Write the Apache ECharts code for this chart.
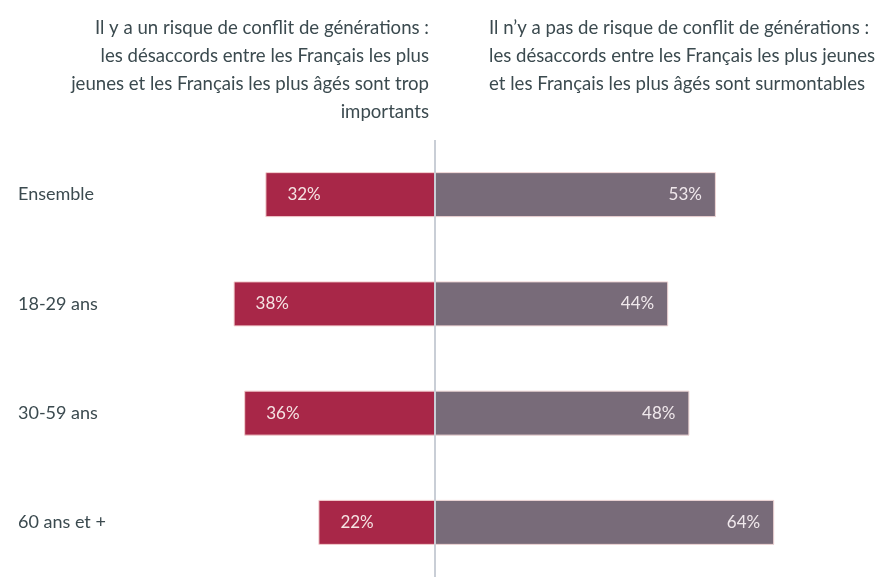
<!DOCTYPE html>
<html>
<head>
<meta charset="utf-8">
<script src="https://cdn.jsdelivr.net/npm/echarts@6/dist/echarts.min.js"></script>
<style>
  html, body { margin: 0; padding: 0; background: #ffffff; }
  #chart { width: 882px; height: 577px; }
</style>
</head>
<body>
<div id="chart"></div>
<script>
// Age groups, top to bottom
const categories = ['Ensemble', '18-29 ans', '30-59 ans', '60 ans et +'];
// "Risque de conflit" share (%), drawn to the left of the centre line
const risqueValues = [32, 38, 36, 22];
// "Pas de risque" share (%), drawn to the right of the centre line
const pasRisqueValues = [53, 44, 48, 64];

const leftHeader = [
  'Il y a un risque de conflit de générations :',
  'les désaccords entre les Français les plus',
  'jeunes et les Français les plus âgés sont trop',
  'importants'
];
const rightHeader = [
  'Il n’y a pas de risque de conflit de générations :',
  'les désaccords entre les Français les plus jeunes',
  'et les Français les plus âgés sont surmontables'
];

const FONT = 'Lato, "Open Sans", sans-serif';
const RED = '#A82748';
const GREY = '#786B79';
const TEXT = '#3b4a4f';

const chart = echarts.init(document.getElementById('chart'), null, { renderer: 'canvas' });

chart.setOption({
  backgroundColor: '#ffffff',
  animation: false,
  title: [
    {
      text: leftHeader.join('\n'),
      left: 424, top: 9,
      textAlign: 'right',
      textStyle: { fontFamily: FONT, fontSize: 18.6, fontWeight: 'normal', color: TEXT, lineHeight: 28, align: 'right' }
    },
    {
      text: rightHeader.join('\n'),
      left: 484, top: 9,
      textStyle: { fontFamily: FONT, fontSize: 18.6, fontWeight: 'normal', color: TEXT, lineHeight: 28 }
    }
  ],
  grid: { left: 117, width: 689, top: 140, height: 443, containLabel: false },
  xAxis: {
    type: 'value', min: -60, max: 70,
    show: false
  },
  yAxis: {
    type: 'category',
    data: categories,
    inverse: true,
    axisLine: { show: false },
    axisTick: { show: false },
    splitLine: { show: false },
    axisLabel: {
      align: 'left', margin: 99,
      fontFamily: FONT, fontSize: 18, color: TEXT
    }
  },
  series: [
    {
      name: 'Risque',
      type: 'bar',
      barWidth: 45,
      barGap: '-100%',
      data: risqueValues.map(v => -v),
      itemStyle: { color: RED, borderColor: '#f3cfcf', borderWidth: 1 },
      label: {
        show: true, position: 'insideLeft', distance: 22,
        formatter: p => Math.abs(p.value) + '%',
        fontFamily: FONT, fontSize: 17, color: '#f5e3e3'
      },
      markLine: {
        silent: true, symbol: 'none',
        label: { show: false },
        lineStyle: { color: '#c9ced6', width: 2, type: 'solid' },
        data: [{ xAxis: 0 }]
      },
      z: 1
    },
    {
      name: 'Pas de risque',
      type: 'bar',
      barWidth: 45,
      data: pasRisqueValues,
      itemStyle: { color: GREY, borderColor: '#f0d6d6', borderWidth: 1 },
      label: {
        show: true, position: 'insideRight', distance: 14,
        formatter: p => p.value + '%',
        fontFamily: FONT, fontSize: 17, color: '#f0e8ec'
      },
      z: 2
    }
  ]
});
</script>
</body>
</html>
